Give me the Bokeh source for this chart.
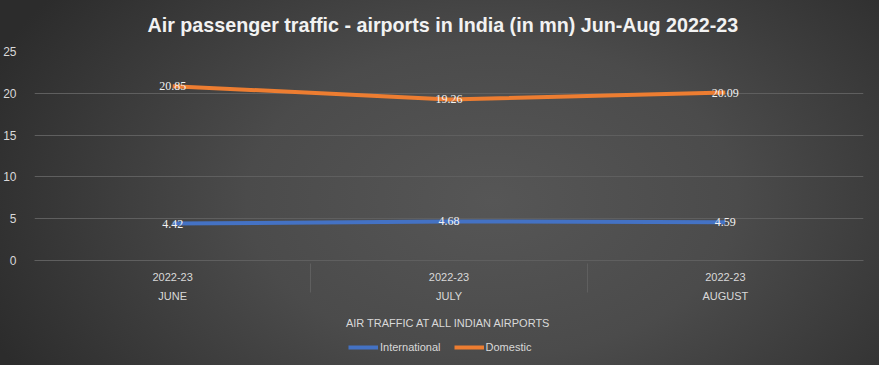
from bokeh.plotting import figure
from bokeh.layouts import column
from bokeh.models import (FactorRange, ColumnDataSource, FixedTicker, Legend, LegendItem,
                          LabelSet, InlineStyleSheet, Title)
from bokeh.embed import file_html
from bokeh.resources import INLINE

group = "AIR TRAFFIC AT ALL INDIAN AIRPORTS"
months = ["JUNE", "JULY", "AUGUST"]
year = "2022-23"
series_names = ["International", "Domestic"]
international = [4.42, 4.68, 4.59]
domestic = [20.85, 19.26, 20.09]
y_ticks = [0, 5, 10, 15, 20, 25]
colors = ["#4472C4", "#ED7D31"]

factors = [(m, year) for m in months]
src = ColumnDataSource(dict(
    x=factors,
    intl=international,
    dom=domestic,
    intl_lbl=[f"{v:.2f}" for v in international],
    dom_lbl=[f"{v:.2f}" for v in domestic],
))

FONT = "Liberation Sans"
TXT = "#d9d9d9"
GRID = "#5f5f5f"

W, H, LEG_H = 879, 365, 30
TOP, BOTTOM, LEFT, RIGHT = 51, H - LEG_H - 260, 30, 16

css = InlineStyleSheet(css=""":host { background: radial-gradient(ellipse 62% 95% at 56% 55%, #565656 0%, #4b4b4b 45%, #2c2c2c 100%); }""")

p = figure(width=W, height=H - LEG_H, output_backend="svg", toolbar_location=None,
           x_range=FactorRange(*factors, range_padding=0, factor_padding=0,
                               subgroup_padding=0, group_padding=0),
           y_range=(0, y_ticks[-1]), min_border_left=LEFT, min_border_right=RIGHT,
           min_border_top=TOP, min_border_bottom=BOTTOM)
p.background_fill_color = None
p.border_fill_color = None
p.outline_line_color = None

p.title = Title(text="Air passenger traffic - airports in India (in mn) Jun-Aug 2022-23",
                align="left", offset=113, text_color="#f2f2f2", text_font=FONT,
                text_font_size="19.7px", text_font_style="bold", standoff=27,
                vertical_align="top", text_line_height=1.5)

l1 = p.line("x", "intl", source=src, line_color=colors[0], line_width=4)
l2 = p.line("x", "dom", source=src, line_color=colors[1], line_width=4)

for col, lbl in (("intl", "intl_lbl"), ("dom", "dom_lbl")):
    p.add_layout(LabelSet(x="x", y=col, text=lbl, source=src, text_align="center",
                          text_baseline="middle", text_color="#f2f2f2",
                          text_font=FONT, text_font_size="12px"))

p.yaxis.ticker = FixedTicker(ticks=y_ticks)
p.yaxis.axis_line_color = None
p.yaxis.major_tick_line_color = None
p.yaxis.minor_tick_line_color = None
p.yaxis.major_label_text_color = TXT
p.yaxis.major_label_text_font = FONT
p.yaxis.major_label_text_font_size = "12px"
p.yaxis.major_label_standoff = 12

xa = p.xaxis[0]
xa.axis_line_color = GRID
xa.major_tick_line_color = None
xa.major_label_text_color = TXT
xa.major_label_text_font = FONT
xa.major_label_text_font_size = "11px"
xa.major_label_standoff = 6
xa.group_text_color = TXT
xa.group_text_font = FONT
xa.group_text_font_size = "11px"
xa.group_text_font_style = "normal"
xa.separator_line_color = GRID
xa.separator_line_width = 1
xa.axis_label = group
xa.axis_label_text_color = TXT
xa.axis_label_text_font = FONT
xa.axis_label_text_font_size = "11px"
xa.axis_label_text_font_style = "normal"
xa.axis_label_standoff = 12

p.xgrid.grid_line_color = None
p.ygrid.grid_line_color = GRID

# legend strip below the chart (legend-only renderers carry no visible data)
lg = figure(width=W, height=LEG_H, output_backend="svg", toolbar_location=None,
            x_range=(0, 1), y_range=(0, 1), min_border=0)
lg.background_fill_color = None
lg.border_fill_color = None
lg.outline_line_color = None
lg.axis.visible = False
lg.grid.visible = False
nan = float("nan")
rends = [lg.line(x=[nan], y=[nan], line_color=c, line_width=4) for c in colors]
legend = Legend(items=[LegendItem(label=n, renderers=[r]) for n, r in zip(series_names, rends)],
                orientation="horizontal", location=(314, 8),
                background_fill_alpha=0, border_line_color=None,
                label_text_color=TXT, label_text_font=FONT, label_text_font_size="11px",
                glyph_width=30, spacing=13, padding=2, margin=0, label_standoff=2)
lg.add_layout(legend, "center")

layout = column(p, lg, spacing=0)
layout.stylesheets = [css]

open("out.html", "w").write(file_html(layout, INLINE))
